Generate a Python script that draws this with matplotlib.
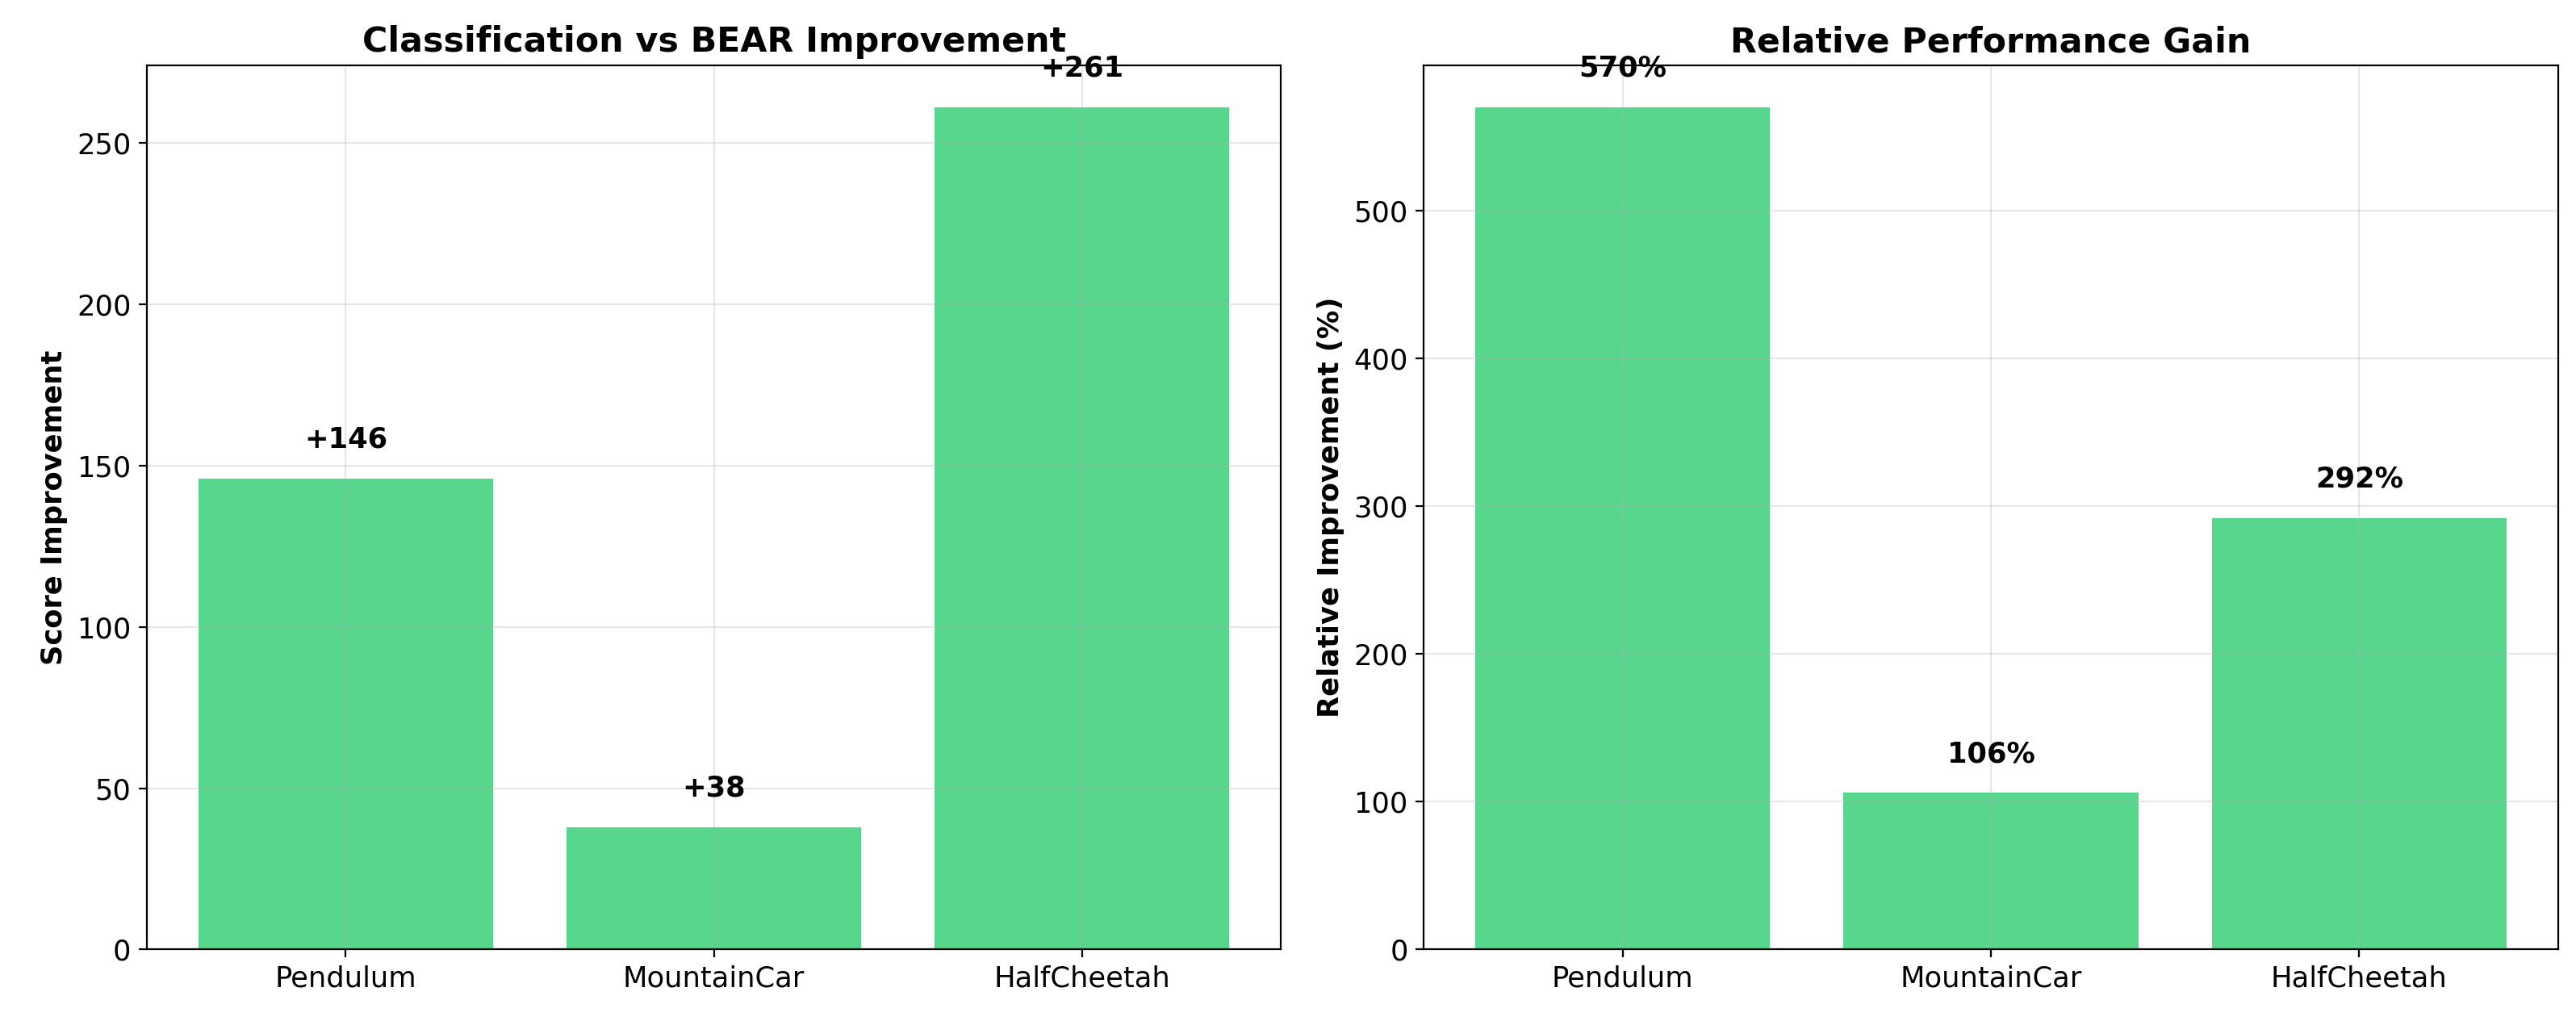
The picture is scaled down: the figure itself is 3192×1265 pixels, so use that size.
import matplotlib.pyplot as plt
import numpy as np

# Data
envs = ['Pendulum', 'MountainCar', 'HalfCheetah']
score_gain = [146, 38, 261]
relative_gain = [570, 106, 292]

color = '#2ecc71'
fs = 12.7
title_fs = 15.4

fig, (ax1, ax2) = plt.subplots(1, 2, figsize=(15.96, 6.325), dpi=200)
x = np.arange(len(envs))

# Left: absolute improvement
ax1.bar(x, score_gain, color=color, alpha=0.8)
ax1.set_xticks(x)
ax1.set_xticklabels(envs, fontsize=fs)
ax1.set_ylabel('Score Improvement', fontsize=fs, fontweight='bold')
ax1.set_title('Classification vs BEAR Improvement', fontsize=title_fs, fontweight='bold')
ax1.grid(True, alpha=0.3)
ax1.tick_params(axis='y', labelsize=fs)
ax1.set_ylim(0, max(score_gain) * 1.05)
for i, v in enumerate(score_gain):
    ax1.text(i, v + max(score_gain) * 0.03, '+%d' % v, ha='center', va='bottom',
             fontsize=fs, fontweight='bold')

# Right: relative improvement
ax2.bar(x, relative_gain, color=color, alpha=0.8)
ax2.set_xticks(x)
ax2.set_xticklabels(envs, fontsize=fs)
ax2.set_ylabel('Relative Improvement (%)', fontsize=fs, fontweight='bold')
ax2.set_title('Relative Performance Gain', fontsize=title_fs, fontweight='bold')
ax2.grid(True, alpha=0.3)
ax2.tick_params(axis='y', labelsize=fs)
ax2.set_ylim(0, max(relative_gain) * 1.05)
for i, v in enumerate(relative_gain):
    ax2.text(i, v + max(relative_gain) * 0.03, '%d%%' % v, ha='center', va='bottom',
             fontsize=fs, fontweight='bold')

fig.subplots_adjust(left=0.057, right=0.993, top=0.936, bottom=0.07, wspace=0.126)
fig.savefig('out.png', dpi=200)
